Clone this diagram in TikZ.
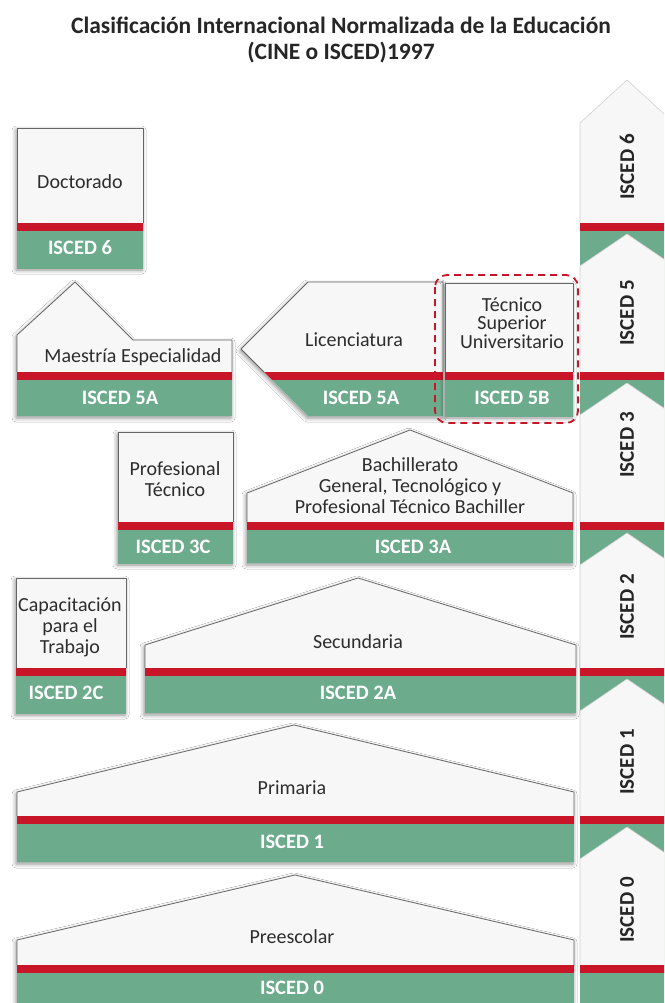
\documentclass[tikz,border=0pt]{standalone}
\usepackage{fontspec}
\setmainfont{Carlito}
\usetikzlibrary{shadows.blur}
\definecolor{iscgreen}{RGB}{108,171,140}
\definecolor{iscred}{RGB}{200,22,40}
\definecolor{boxwhite}{RGB}{247,247,247}
\definecolor{txt}{RGB}{45,45,45}
\tikzset{
  boxshadow/.style={fill=boxwhite, blur shadow={shadow xshift=-1pt, shadow yshift=-2pt, shadow blur radius=4pt, shadow opacity=45}},
  edge/.style={draw=black!60, line width=0.8pt, line join=round},
  lbl/.style={font=\fontsize{20}{21}\selectfont, text=txt, align=center, inner sep=0pt},
  isc/.style={font=\bfseries\fontsize{20.5}{21}\selectfont, text=white, inner sep=0pt},
  colbl/.style={font=\bfseries\fontsize{21}{22}\selectfont, text=black!85, rotate=90, inner sep=0pt},
  ttl/.style={font=\bfseries\fontsize{23.5}{25}\selectfont, text=black!85, inner sep=0pt},
  colshape/.style={fill=boxwhite, draw=black!18, line width=0.6pt},
}
% #1 closed outline, #2 red band top, #3 open outline of white part
\newcommand\tierblock[3]{%
  \path[boxshadow] #1;
  \begin{scope}
    \clip #1;
    \fill[iscred] (0,#2) rectangle (664,#2+8);
    \fill[iscgreen] (0,#2+8) rectangle (664,1010);
  \end{scope}
  \draw[edge] #3;
}
\begin{document}
\begin{tikzpicture}[x=1pt,y=-1pt]
\useasboundingbox (0,0) rectangle (664,1003);
\fill[white] (0,0) rectangle (664,1003);

% title
\node[ttl] (t1) at (341,25) {Clasificación Internacional Normalizada de la Educación};
\node[ttl] (t2) at (341,53) {(CINE o ISCED)1997};

% ---------- right column ----------
\begin{scope}
\clip (0,0) rectangle (664,1003);
\fill[iscgreen] (580,231) rectangle (670,1010);
\path[colshape] (580,223) -- (580,123) -- (627,80) -- (674,123) -- (674,223);
\path[colshape] (580,372) -- (580,266) -- (627,234) -- (674,266) -- (674,372);
\path[colshape] (580,522) -- (580,415) -- (627,383) -- (674,415) -- (674,522);
\path[colshape] (580,668) -- (580,565) -- (627,533) -- (674,565) -- (674,668);
\path[colshape] (580,816) -- (580,711) -- (627,679) -- (674,711) -- (674,816);
\path[colshape] (580,965) -- (580,859) -- (627,827) -- (674,859) -- (674,965);
\foreach \r in {223,372,522,668,816,965}{\fill[iscred] (580,\r) rectangle (670,\r+8);}
\end{scope}
\node[colbl] (c6) at (627,167) {ISCED 6};
\node[colbl] (c5) at (627,313) {ISCED 5};
\node[colbl] (c3) at (627,445) {ISCED 3};
\node[colbl] (c2) at (627,607) {ISCED 2};
\node[colbl] (c1) at (627,762) {ISCED 1};
\node[colbl] (c0) at (627,910) {ISCED 0};

% ---------- level 6 ----------
\tierblock{(17,128) -- (143,128) -- (143,268) -- (17,268) -- cycle}{223}{(17,223) -- (17,128) -- (143,128) -- (143,223)}
\node[lbl] (doc) at (80,182) {Doctorado};
\node[isc] (doci) at (80,248) {ISCED 6};

% ---------- level 5 ----------
\tierblock{(17,416) -- (17,335) -- (75,282) -- (133,340) -- (232,340) -- (232,416) -- cycle}{372}{(17,372) -- (17,335) -- (75,282) -- (133,340) -- (232,340) -- (232,372)}
\node[lbl] (mae) at (133,357) {Maestría Especialidad};
\node[isc] (maei) at (120,398) {ISCED 5A};

\tierblock{(308,282) -- (443,282) -- (443,416) -- (308,416) -- (241,349) -- cycle}{372}{(264,372) -- (241,349) -- (308,282) -- (443,282) -- (443,372)}
\node[lbl] (lic) at (354,340) {Licenciatura};
\node[isc] (lici) at (361,398) {ISCED 5A};

\tierblock{(445,283) -- (573,283) -- (573,416) -- (445,416) -- cycle}{372}{(445,372) -- (445,283) -- (573,283) -- (573,372)}
\node[lbl] (tsu) at (512,323) {Técnico\\[-2.5pt]Superior\\[-2.5pt]Universitario};
\node[isc] (tsui) at (512,398) {ISCED 5B};
\draw[iscred, line width=1.8pt, dash pattern=on 7pt off 5pt, rounded corners=12pt] (435,275) rectangle (578,423);

% ---------- level 3 ----------
\tierblock{(118,432) -- (233,432) -- (233,563) -- (118,563) -- cycle}{522}{(118,522) -- (118,432) -- (233,432) -- (233,522)}
\node[lbl] (pt) at (175,479) {Profesional\\Técnico};
\node[isc] (pti) at (173,547) {ISCED 3C};

\tierblock{(247,563) -- (247,493) -- (410,430) -- (573,493) -- (573,563) -- cycle}{522}{(247,522) -- (247,493) -- (410,430) -- (573,493) -- (573,522)}
\node[lbl] (bach) at (410,486) {Bachillerato\\General, Tecnológico y\\Profesional Técnico Bachiller};
\node[isc] (bachi) at (413,547) {ISCED 3A};

% ---------- level 2 ----------
\tierblock{(16,578) -- (126,578) -- (126,713) -- (16,713) -- cycle}{668}{(16,668) -- (16,578) -- (126,578) -- (126,668)}
\node[lbl] (cap) at (70,627) {Capacitación\\para el\\Trabajo};
\node[isc] (capi) at (66,693) {ISCED 2C};

\tierblock{(145,713) -- (145,645) -- (358,578) -- (576,645) -- (576,713) -- cycle}{668}{(145,668) -- (145,645) -- (358,578) -- (576,645) -- (576,668)}
\node[lbl] (sec) at (358,642) {Secundaria};
\node[isc] (seci) at (358,693) {ISCED 2A};

% ---------- level 1 ----------
\tierblock{(17,862) -- (17,792) -- (294,725) -- (574,792) -- (574,862) -- cycle}{816}{(17,816) -- (17,792) -- (294,725) -- (574,792) -- (574,816)}
\node[lbl] (pri) at (292,788) {Primaria};
\node[isc] (prii) at (292,842) {ISCED 1};

% ---------- level 0 ----------
\tierblock{(17,1010) -- (17,940) -- (295,875) -- (574,940) -- (574,1010) -- cycle}{965}{(17,965) -- (17,940) -- (295,875) -- (574,940) -- (574,965)}
\node[lbl] (pre) at (292,937) {Preescolar};
\node[isc] (prei) at (292,988) {ISCED 0};
\end{tikzpicture}
\end{document}
